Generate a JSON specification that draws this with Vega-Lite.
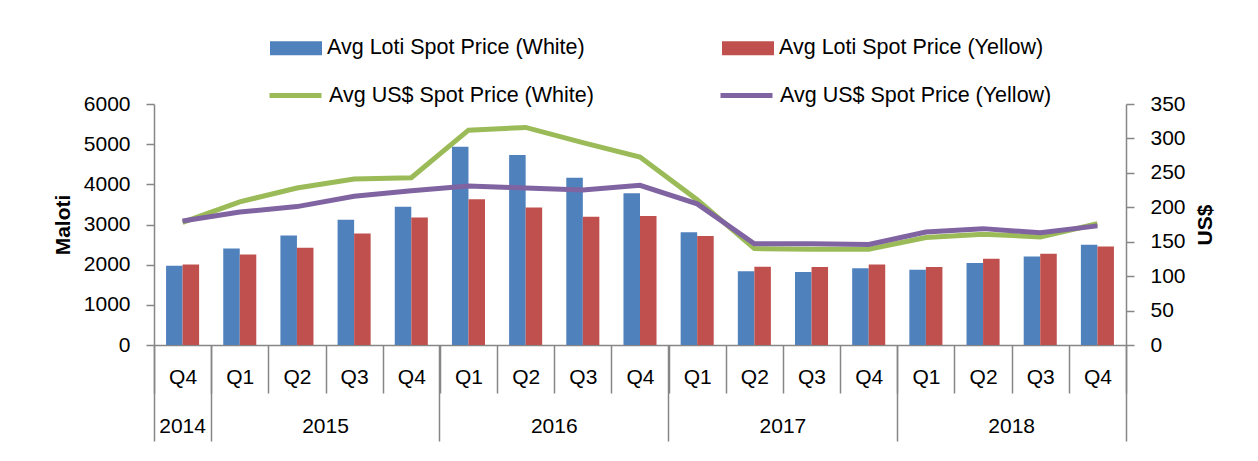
{
  "$schema": "https://vega.github.io/schema/vega-lite/v6.json",
  "autosize": {"type": "none"},
  "width": 972,
  "height": 241,
  "padding": {"left": 154, "top": 104, "right": 132, "bottom": 116},
  "background": "white",
  "config": {
    "view": {"stroke": null},
    "font": "Liberation Sans",
    "axis": {"grid": false, "labelColor": "black", "labelFont": "Liberation Sans", "labelFontSize": 21, "domainColor": "#868686", "tickColor": "#868686", "domainWidth": 1.5, "tickWidth": 1.5, "titleFont": "Liberation Sans", "titleColor": "black"},
    "legend": {"labelFont": "Liberation Sans", "labelFontSize": 21.5, "labelColor": "black", "labelLimit": 500}
  },
  "datasets": {
    "p": [
      {"q": "2014-Q4", "Avg Loti Spot Price (White)": 1970, "Avg Loti Spot Price (Yellow)": 2005, "Avg US$ Spot Price (White)": 178, "Avg US$ Spot Price (Yellow)": 180},
      {"q": "2015-Q1", "Avg Loti Spot Price (White)": 2404, "Avg Loti Spot Price (Yellow)": 2254, "Avg US$ Spot Price (White)": 208, "Avg US$ Spot Price (Yellow)": 193},
      {"q": "2015-Q2", "Avg Loti Spot Price (White)": 2728, "Avg Loti Spot Price (Yellow)": 2419, "Avg US$ Spot Price (White)": 228, "Avg US$ Spot Price (Yellow)": 201},
      {"q": "2015-Q3", "Avg Loti Spot Price (White)": 3117, "Avg Loti Spot Price (Yellow)": 2778, "Avg US$ Spot Price (White)": 241, "Avg US$ Spot Price (Yellow)": 216},
      {"q": "2015-Q4", "Avg Loti Spot Price (White)": 3441, "Avg Loti Spot Price (Yellow)": 3177, "Avg US$ Spot Price (White)": 243, "Avg US$ Spot Price (Yellow)": 224},
      {"q": "2016-Q1", "Avg Loti Spot Price (White)": 4938, "Avg Loti Spot Price (Yellow)": 3626, "Avg US$ Spot Price (White)": 312, "Avg US$ Spot Price (Yellow)": 231},
      {"q": "2016-Q2", "Avg Loti Spot Price (White)": 4731, "Avg Loti Spot Price (Yellow)": 3426, "Avg US$ Spot Price (White)": 316, "Avg US$ Spot Price (Yellow)": 228},
      {"q": "2016-Q3", "Avg Loti Spot Price (White)": 4165, "Avg Loti Spot Price (Yellow)": 3192, "Avg US$ Spot Price (White)": 294, "Avg US$ Spot Price (Yellow)": 225},
      {"q": "2016-Q4", "Avg Loti Spot Price (White)": 3776, "Avg Loti Spot Price (Yellow)": 3209, "Avg US$ Spot Price (White)": 273, "Avg US$ Spot Price (Yellow)": 232},
      {"q": "2017-Q1", "Avg Loti Spot Price (White)": 2805, "Avg Loti Spot Price (Yellow)": 2715, "Avg US$ Spot Price (White)": 211, "Avg US$ Spot Price (Yellow)": 205},
      {"q": "2017-Q2", "Avg Loti Spot Price (White)": 1833, "Avg Loti Spot Price (Yellow)": 1950, "Avg US$ Spot Price (White)": 140, "Avg US$ Spot Price (Yellow)": 147},
      {"q": "2017-Q3", "Avg Loti Spot Price (White)": 1816, "Avg Loti Spot Price (Yellow)": 1940, "Avg US$ Spot Price (White)": 139, "Avg US$ Spot Price (Yellow)": 147},
      {"q": "2017-Q4", "Avg Loti Spot Price (White)": 1908, "Avg Loti Spot Price (Yellow)": 2007, "Avg US$ Spot Price (White)": 139, "Avg US$ Spot Price (Yellow)": 146},
      {"q": "2018-Q1", "Avg Loti Spot Price (White)": 1875, "Avg Loti Spot Price (Yellow)": 1940, "Avg US$ Spot Price (White)": 156, "Avg US$ Spot Price (Yellow)": 164},
      {"q": "2018-Q2", "Avg Loti Spot Price (White)": 2040, "Avg Loti Spot Price (Yellow)": 2149, "Avg US$ Spot Price (White)": 161, "Avg US$ Spot Price (Yellow)": 169},
      {"q": "2018-Q3", "Avg Loti Spot Price (White)": 2206, "Avg Loti Spot Price (Yellow)": 2274, "Avg US$ Spot Price (White)": 157, "Avg US$ Spot Price (Yellow)": 163},
      {"q": "2018-Q4", "Avg Loti Spot Price (White)": 2497, "Avg Loti Spot Price (Yellow)": 2455, "Avg US$ Spot Price (White)": 176, "Avg US$ Spot Price (Yellow)": 173}
    ]
  },
  "layer": [
    {
      "data": {"name": "p"},
      "transform": [{"fold": ["Avg Loti Spot Price (White)", "Avg Loti Spot Price (Yellow)"], "as": ["s", "v"]}],
      "mark": {"type": "bar"},
      "encoding": {
        "x": {"field": "q", "type": "nominal", "scale": {"paddingInner": 0, "paddingOuter": 0},
          "axis": {"orient": "bottom", "title": null, "tickBand": "extent", "tickSize": 48, "labelAngle": 0, "labelPadding": -16, "labelBaseline": "middle", "labelExpr": "datum.value ? substring(datum.value, 5) : ''"}},
        "xOffset": {"field": "s", "type": "nominal", "scale": {"domain": ["Avg Loti Spot Price (White)", "Avg Loti Spot Price (Yellow)"], "paddingInner": 0, "paddingOuter": 0.73}},
        "y": {"field": "v", "type": "quantitative", "scale": {"domain": [0, 6000], "nice": false},
          "axis": {"orient": "left", "values": [0, 1000, 2000, 3000, 4000, 5000, 6000], "format": "d", "tickSize": 8, "labelPadding": 16, "title": "Maloti", "titleFontSize": 21, "titleFontWeight": "bold", "titlePadding": 10}},
        "color": {"field": "s", "type": "nominal", "scale": {"domain": ["Avg Loti Spot Price (White)", "Avg Loti Spot Price (Yellow)"], "range": ["#4F81BD", "#C0504D"]},
          "legend": {"title": null, "orient": "none", "direction": "horizontal", "legendX": 116, "legendY": -82, "symbolType": "M-1,-0.27H1V0.27H-1Z", "symbolSize": 2704, "symbolStrokeWidth": 0, "labelOffset": 5, "columnPadding": 137}}
      }
    },
    {
      "data": {"name": "p"},
      "transform": [{"fold": ["Avg US$ Spot Price (White)", "Avg US$ Spot Price (Yellow)"], "as": ["s", "v"]}],
      "mark": {"type": "line", "strokeWidth": 5},
      "encoding": {
        "x": {"field": "q", "type": "nominal",
          "axis": {"orient": "bottom", "title": null, "domain": false, "bandPosition": 1, "values": ["2014-Q4", "2015-Q4", "2016-Q4", "2017-Q4", "2018-Q4"], "tickSize": 96, "labelAngle": 0, "labelOffset": {"condition": {"test": "datum.value === '2014-Q4'", "value": 0}, "value": -85.76}, "labelPadding": -15, "labelBaseline": "middle", "labelExpr": "substring(datum.value, 0, 4)"}},
        "y": {"field": "v", "type": "quantitative", "scale": {"domain": [0, 350], "nice": false},
          "axis": {"orient": "right", "values": [0, 50, 100, 150, 200, 250, 300, 350], "format": "d", "tickSize": 8, "labelPadding": 16, "title": "US$", "titleFontSize": 21, "titleFontWeight": "bold", "titleAngle": 270, "titlePadding": 30}},
        "stroke": {"field": "s", "type": "nominal", "scale": {"domain": ["Avg US$ Spot Price (White)", "Avg US$ Spot Price (Yellow)"], "range": ["#9BBB59", "#8064A2"]},
          "legend": {"title": null, "orient": "none", "direction": "horizontal", "legendX": 113, "legendY": -37, "symbolType": "stroke", "symbolSize": 2704, "symbolStrokeWidth": 5, "labelOffset": 5, "columnPadding": 116}}
      }
    },
    {
      "data": {"name": "p"},
      "mark": {"type": "point", "opacity": 0},
      "encoding": {
        "x": {"field": "q", "type": "nominal",
          "axis": {"orient": "bottom", "title": null, "domain": false, "labels": false, "bandPosition": 0, "values": ["2014-Q4"], "tickSize": 96}}
      }
    }
  ],
  "resolve": {"scale": {"y": "independent"}, "axis": {"x": "independent"}}
}
